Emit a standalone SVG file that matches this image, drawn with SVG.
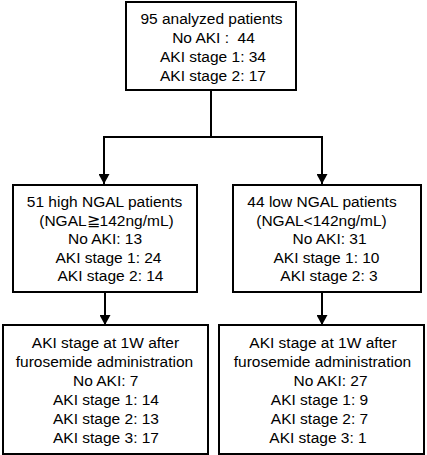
<svg xmlns="http://www.w3.org/2000/svg" width="427" height="455" viewBox="0 0 427 455">
<style>
.box{fill:#fff;stroke:#000;stroke-width:2}
.conn{fill:none;stroke:#000;stroke-width:2}
text{font-family:"Liberation Sans",Arial,sans-serif;font-size:15.5px;fill:#000;text-anchor:middle;white-space:pre}
</style>
<defs>
<marker id="arr" markerUnits="userSpaceOnUse" markerWidth="11" markerHeight="11" refX="10" refY="5.5" orient="auto">
<path d="M0,0 L10,5.5 L0,11 z" fill="#000"/>
</marker>
</defs>
<g id="connectors">
<path class="conn" d="M211,90 V137 H104 V184" marker-end="url(#arr)"/>
<path class="conn" d="M211,137 H322 V184" marker-end="url(#arr)"/>
<path class="conn" d="M105,292 V325" marker-end="url(#arr)"/>
<path class="conn" d="M322,292 V325" marker-end="url(#arr)"/>
</g>
<g id="top">
<rect class="box" x="126" y="2" width="170" height="88"/>
<text x="211.5" y="24">95 analyzed patients</text>
<text x="213.5" y="43">No AKI :  44</text>
<text x="213" y="62">AKI stage 1: 34</text>
<text x="213" y="81">AKI stage 2: 17</text>
</g>
<g id="high">
<rect class="box" x="13" y="185" width="184" height="107"/>
<text x="104.5" y="206.5">51 high NGAL patients</text>
<text x="106.5" y="225.5">(NGAL≧142ng/mL)</text>
<text x="105" y="244">No AKI: 13</text>
<text x="108.5" y="262.5">AKI stage 1: 24</text>
<text x="110.5" y="281">AKI stage 2: 14</text>
</g>
<g id="low">
<rect class="box" x="233" y="185" width="188" height="107"/>
<text x="322" y="206.5">44 low NGAL patients</text>
<text x="321.5" y="225.5">(NGAL&lt;142ng/mL)</text>
<text x="329.5" y="244">No AKI: 31</text>
<text x="326.5" y="262.5">AKI stage 1: 10</text>
<text x="329" y="281">AKI stage 2: 3</text>
</g>
<g id="high-1w">
<rect class="box" x="3" y="325" width="205" height="129"/>
<text x="105.5" y="348">AKI stage at 1W after</text>
<text x="104.5" y="367">furosemide administration</text>
<text x="105.7" y="386">No AKI: 7</text>
<text x="106" y="405">AKI stage 1: 14</text>
<text x="106" y="424">AKI stage 2: 13</text>
<text x="106" y="443">AKI stage 3: 17</text>
</g>
<g id="low-1w">
<rect class="box" x="219" y="325" width="205" height="129"/>
<text x="323" y="348">AKI stage at 1W after</text>
<text x="322.5" y="367">furosemide administration</text>
<text x="330.5" y="386">No AKI: 27</text>
<text x="319.5" y="405">AKI stage 1: 9</text>
<text x="319.5" y="424">AKI stage 2: 7</text>
<text x="318" y="443">AKI stage 3: 1</text>
</g>
</svg>
